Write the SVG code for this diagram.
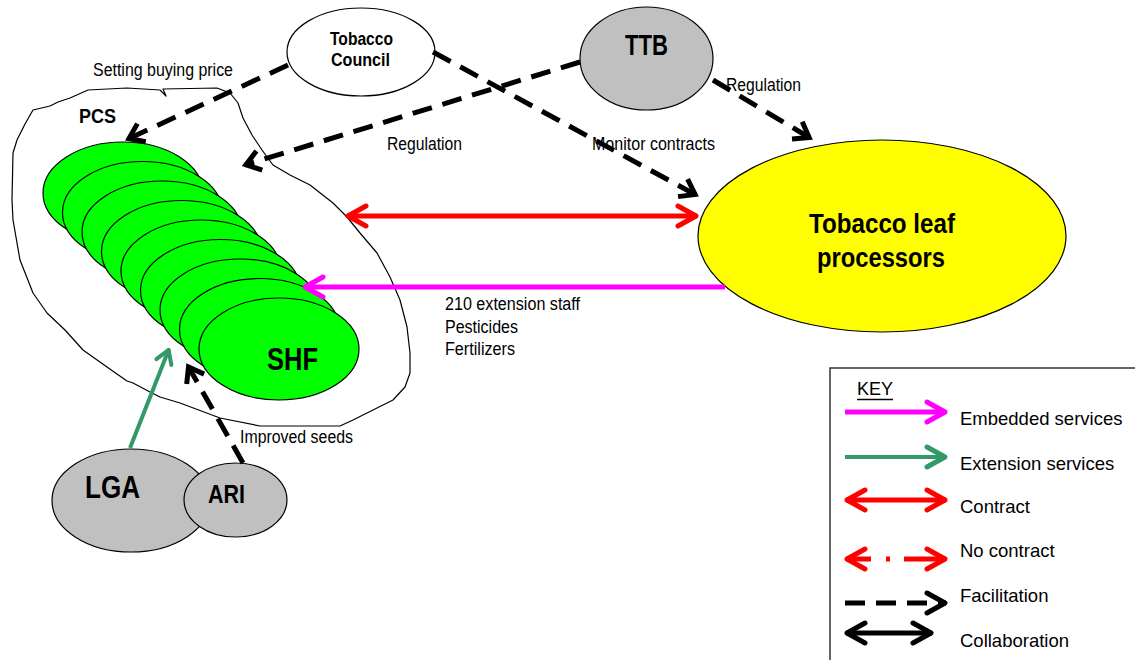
<svg xmlns="http://www.w3.org/2000/svg" width="1135" height="660" viewBox="0 0 1135 660">
  <style>
    .lbl { font-family: "Liberation Sans", Arial, sans-serif; font-size: 17.5px; fill: #000; }
    .bold { font-family: "Liberation Sans", Arial, sans-serif; font-weight: bold; fill: #000; }
    .key { font-family: "Liberation Sans", Arial, sans-serif; font-size: 18.5px; fill: #000; }
    .node { stroke: #000; stroke-width: 1.2; }
    .farmer { fill: #00ff00; stroke: #000; stroke-width: 1.2; }
    .facil { fill: none; stroke: #000; stroke-width: 5; stroke-dasharray: 20 11; }
    .contract { fill: none; stroke: #ff0000; stroke-width: 5; }
    .nocontract { fill: none; stroke: #ff0000; stroke-width: 5; stroke-dasharray: 25 15 4 14 60; }
    .embedded { fill: none; stroke: #ff00ff; stroke-width: 5; }
    .extension { fill: none; stroke: #339966; stroke-width: 4; }
    .collab { fill: none; stroke: #000; stroke-width: 5; }
  </style>
  <defs>
    <marker id="ah-black" markerUnits="userSpaceOnUse" orient="auto-start-reverse" viewBox="-30 -20 40 40" refX="0" refY="0" markerWidth="40" markerHeight="40" overflow="visible">
      <path d="M-15,-10 L-1,0 L-15,10" fill="none" stroke="#000" stroke-width="5"/>
    </marker>
    <marker id="ah-red" markerUnits="userSpaceOnUse" orient="auto-start-reverse" viewBox="-30 -20 40 40" refX="0" refY="0" markerWidth="40" markerHeight="40" overflow="visible">
      <path d="M-19,-10 L-1,0 L-19,10" fill="none" stroke="#ff0000" stroke-width="5" stroke-linecap="round" stroke-linejoin="round"/>
    </marker>
    <marker id="ah-magenta" markerUnits="userSpaceOnUse" orient="auto-start-reverse" viewBox="-30 -20 40 40" refX="0" refY="0" markerWidth="40" markerHeight="40" overflow="visible">
      <path d="M-19,-10 L-1,0 L-19,10" fill="none" stroke="#ff00ff" stroke-width="5" stroke-linecap="round" stroke-linejoin="round"/>
    </marker>
    <marker id="ah-green" markerUnits="userSpaceOnUse" orient="auto-start-reverse" viewBox="-30 -20 40 40" refX="0" refY="0" markerWidth="40" markerHeight="40" overflow="visible">
      <path d="M-19,-10 L-1,0 L-19,10" fill="none" stroke="#339966" stroke-width="5" stroke-linecap="round" stroke-linejoin="round"/>
    </marker>
    <marker id="ah-green-sm" markerUnits="userSpaceOnUse" orient="auto-start-reverse" viewBox="-30 -20 40 40" refX="0" refY="0" markerWidth="40" markerHeight="40" overflow="visible">
      <path d="M-14,-8 L-1,0 L-14,8" fill="none" stroke="#339966" stroke-width="4" stroke-linecap="round" stroke-linejoin="round"/>
    </marker>
    <marker id="ah-black-k" markerUnits="userSpaceOnUse" orient="auto-start-reverse" viewBox="-30 -20 40 40" refX="0" refY="0" markerWidth="40" markerHeight="40" overflow="visible">
      <path d="M-19,-10 L-1,0 L-19,10" fill="none" stroke="#000" stroke-width="5" stroke-linecap="round" stroke-linejoin="round"/>
    </marker>
  </defs>

  <rect width="1135" height="660" fill="#fff"/>

  <!-- Primary cooperative society boundary -->
  <g id="pcs">
    <path d="M12,200 L13,153 L17,140 L25,124 L33,110 L50,106 L58,102 L70,98 L88,90 L127,88 L160,90 L166,96 L163,89 L217,88 L230,93 L238,103 L243,118 L252,135 L262,150 L273,165 L290,175 L310,185 L333,203 L347,217 L360,233 L377,253 L390,277 L400,300 L407,327 L410,353 L410,373 L405,387 L393,400 L373,410 L353,420 L340,426 L260,426 L220,418 L180,403 L160,397 L150,392 L133,383 L127,381 L107,367 L83,350 L65,330 L47,313 L33,293 L20,260 L13,220 Z" fill="#fff" stroke="#000" stroke-width="1.2" stroke-linejoin="round"/>
    <text class="bold" x="79" y="123" font-size="20" textLength="37" lengthAdjust="spacingAndGlyphs">PCS</text>
  </g>

  <!-- Smallholder farmers: stack of overlapping ellipses -->
  <g id="shf">
    <ellipse class="farmer" cx="123" cy="193" rx="80" ry="51"/>
    <ellipse class="farmer" cx="142.5" cy="212.5" rx="80" ry="51"/>
    <ellipse class="farmer" cx="162" cy="232" rx="80" ry="51"/>
    <ellipse class="farmer" cx="181.5" cy="251.5" rx="80" ry="51"/>
    <ellipse class="farmer" cx="201" cy="271" rx="80" ry="51"/>
    <ellipse class="farmer" cx="220.5" cy="290.5" rx="80" ry="51"/>
    <ellipse class="farmer" cx="240" cy="310" rx="80" ry="51"/>
    <ellipse class="farmer" cx="259.5" cy="329.5" rx="80" ry="51"/>
    <ellipse class="farmer" cx="279" cy="349" rx="80" ry="51"/>
    <text class="bold" x="267" y="370" font-size="31" textLength="51" lengthAdjust="spacingAndGlyphs">SHF</text>
  </g>

  <g id="tobacco-council">
    <ellipse class="node" cx="361" cy="52" rx="74" ry="44" fill="#fff"/>
    <text class="bold" x="330" y="45" font-size="18.5" textLength="63" lengthAdjust="spacingAndGlyphs">Tobacco</text>
    <text class="bold" x="331" y="66" font-size="18.5" textLength="59" lengthAdjust="spacingAndGlyphs">Council</text>
  </g>

  <g id="ttb">
    <ellipse class="node" cx="646.5" cy="58.5" rx="66.5" ry="51.5" fill="#c0c0c0"/>
    <text class="bold" x="625" y="55" font-size="30" textLength="43" lengthAdjust="spacingAndGlyphs">TTB</text>
  </g>

  <g id="processors">
    <ellipse class="node" cx="882" cy="236" rx="184" ry="96" fill="#ffff00"/>
    <text class="bold" x="809" y="233" font-size="28" textLength="146" lengthAdjust="spacingAndGlyphs">Tobacco leaf</text>
    <text class="bold" x="817" y="267" font-size="28" textLength="128" lengthAdjust="spacingAndGlyphs">processors</text>
  </g>

  <g id="lga">
    <ellipse class="node" cx="131" cy="500.5" rx="79" ry="51.5" fill="#c0c0c0"/>
    <text class="bold" x="85" y="498" font-size="31" textLength="55" lengthAdjust="spacingAndGlyphs">LGA</text>
  </g>

  <g id="ari">
    <ellipse class="node" cx="235.5" cy="500" rx="51.5" ry="37" fill="#c0c0c0"/>
    <text class="bold" x="208" y="503" font-size="25" textLength="37" lengthAdjust="spacingAndGlyphs">ARI</text>
  </g>

  <!-- Connectors -->
  <g id="connectors">
    <path class="facil" d="M288,65 L128,139" marker-end="url(#ah-black)"/>
    <path class="facil" d="M580,62 L245,165" marker-end="url(#ah-black)"/>
    <path class="facil" d="M433,52 L696,195" marker-end="url(#ah-black)"/>
    <path class="facil" d="M713,80 L810,138" marker-end="url(#ah-black)"/>
    <path class="contract" d="M347,216 L697,216" marker-start="url(#ah-red)" marker-end="url(#ah-red)"/>
    <path class="embedded" d="M725,287 L304,287" marker-end="url(#ah-magenta)"/>
    <path class="extension" d="M130,448 L169,349" marker-end="url(#ah-green-sm)"/>
    <path class="facil" d="M243,463 L188,366" marker-end="url(#ah-black)"/>
  </g>

  <!-- Connector labels -->
  <g id="labels">
    <text class="lbl" x="93" y="76" textLength="140" lengthAdjust="spacingAndGlyphs">Setting buying price</text>
    <text class="lbl" x="387" y="150" textLength="75" lengthAdjust="spacingAndGlyphs">Regulation</text>
    <text class="lbl" x="726" y="91" textLength="75" lengthAdjust="spacingAndGlyphs">Regulation</text>
    <text class="lbl" x="592" y="150" textLength="123" lengthAdjust="spacingAndGlyphs">Monitor contracts</text>
    <text class="lbl" x="445" y="310" textLength="135" lengthAdjust="spacingAndGlyphs">210 extension staff</text>
    <text class="lbl" x="445" y="333" textLength="73" lengthAdjust="spacingAndGlyphs">Pesticides</text>
    <text class="lbl" x="445" y="355" textLength="70" lengthAdjust="spacingAndGlyphs">Fertilizers</text>
    <text class="lbl" x="240" y="443" textLength="113" lengthAdjust="spacingAndGlyphs">Improved seeds</text>
  </g>

  <!-- Legend -->
  <g id="legend">
    <rect x="830" y="368" width="330" height="310" fill="#fff" stroke="#333" stroke-width="1.5"/>
    <text class="key" x="857" y="395" textLength="36" lengthAdjust="spacingAndGlyphs">KEY</text>
    <line x1="857" y1="399.5" x2="893" y2="399.5" stroke="#000" stroke-width="1.3"/>
    <path class="embedded" d="M845,412 L946,412" marker-end="url(#ah-magenta)"/>
    <text class="key" x="960" y="425">Embedded services</text>
    <path class="extension" d="M845,457 L946,457" stroke-width="5" marker-end="url(#ah-green)"/>
    <text class="key" x="960" y="470">Extension services</text>
    <path class="contract" d="M846,500 L946,500" marker-start="url(#ah-red)" marker-end="url(#ah-red)"/>
    <text class="key" x="960" y="513">Contract</text>
    <path class="nocontract" d="M846,559 L946,559" marker-start="url(#ah-red)" marker-end="url(#ah-red)"/>
    <text class="key" x="960" y="557">No contract</text>
    <path class="facil" d="M845,603 L946,603" stroke-dasharray="18 15" marker-end="url(#ah-black-k)"/>
    <text class="key" x="960" y="602">Facilitation</text>
    <path class="collab" d="M846,633 L932,633" marker-start="url(#ah-black-k)" marker-end="url(#ah-black-k)"/>
    <text class="key" x="960" y="647">Collaboration</text>
  </g>
</svg>
